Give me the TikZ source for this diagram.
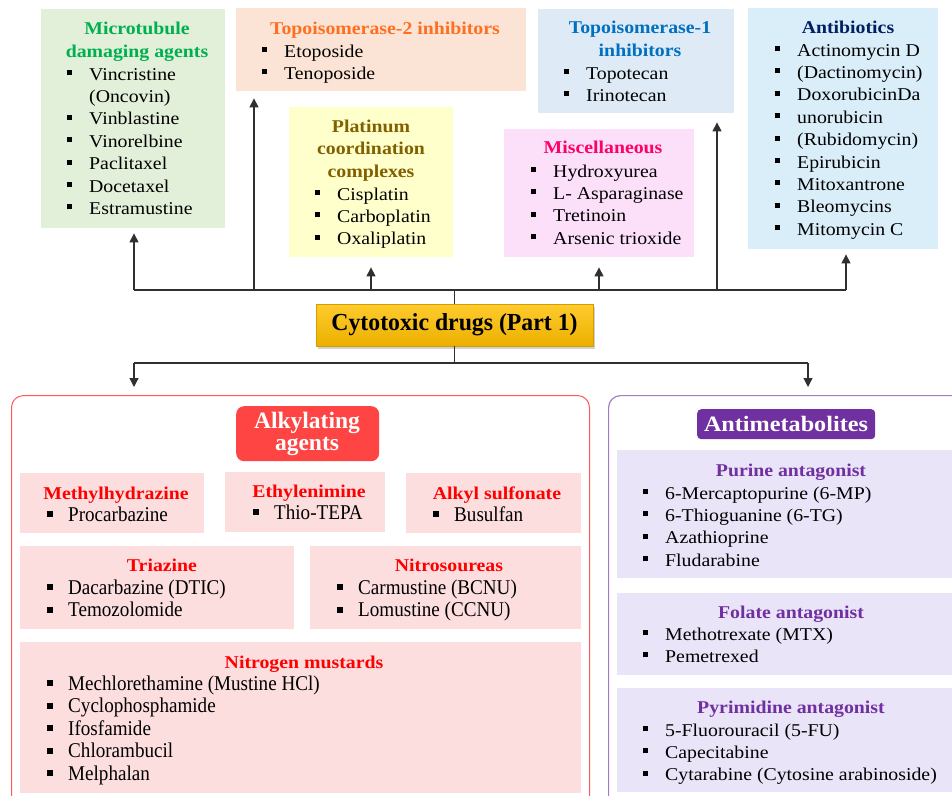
\documentclass[tikz,border=0pt]{standalone}
\usepackage{fontspec}
\setmainfont{Liberation Serif}[FakeStretch=1.1]
\newfontfamily\condf{Liberation Serif}[FakeStretch=0.91]
\newfontfamily\ctrf{Liberation Serif}[FakeStretch=0.97]
\newfontfamily\plainf{Liberation Serif}
\usetikzlibrary{arrows.meta,shadows}
\definecolor{mtfill}{HTML}{E2EFD9}\definecolor{mttext}{HTML}{00B050}
\definecolor{t2fill}{HTML}{FBE4D5}\definecolor{t2text}{HTML}{FF6F20}
\definecolor{plfill}{HTML}{FFFFCC}\definecolor{pltext}{HTML}{806000}
\definecolor{t1fill}{HTML}{DEEAF6}\definecolor{t1text}{HTML}{0070C0}
\definecolor{msfill}{HTML}{FCE0FA}\definecolor{mstext}{HTML}{FF0066}
\definecolor{abfill}{HTML}{DAEEFA}\definecolor{abtext}{HTML}{002060}
\definecolor{redborder}{HTML}{FF5A5A}\definecolor{redtitle}{HTML}{FF4444}
\definecolor{alfill}{HTML}{FDDEDF}\definecolor{altext}{HTML}{FF0000}
\definecolor{puborder}{HTML}{A27CC6}\definecolor{putitle}{HTML}{7030A0}
\definecolor{pufill}{HTML}{E9E4F8}
\definecolor{goldtop}{HTML}{FFCC2E}\definecolor{goldbot}{HTML}{EBAF00}
\definecolor{lncol}{HTML}{303030}
\newcommand{\bul}{\makebox[22pt][l]{\raisebox{5pt}{\rule{5pt}{5pt}}}}
\newcommand{\bulc}{\makebox[21pt][l]{\raisebox{4pt}{\rule{5.5pt}{6pt}}}}
\newcommand{\bsp}{\makebox[22pt]{}}
\newcommand{\cbox}[6]{\node[cb, fill=#6, minimum width={#4pt-#2pt}, minimum height={#5pt-#3pt}] (#1) at (#2,#3) {};}
\newcommand{\ttl}[6]{\node[ttl, text=#5, #6] (#1) at (#2,#3) {\parbox[t]{330pt}{\centering #4}};}
\newcommand{\lstA}[4]{\node[lstn] (#1) at ({#2-22},#3) {\parbox[t]{330pt}{#4}};}
\newcommand{\lstC}[4]{\node[lstc] (#1) at ({#2-21},#3) {\parbox[t]{330pt}{#4}};}
\begin{document}
\begin{tikzpicture}[x=1pt,y=-1pt,
  cb/.style={anchor=north west, inner sep=0pt, draw=none},
  ttl/.style={anchor=base, inner sep=0pt, font=\bfseries\fontsize{18}{22.5}\selectfont},
  lstn/.style={anchor=base west, inner sep=0pt, font=\fontsize{18}{22.4}\selectfont},
  lstc/.style={anchor=base west, inner sep=0pt, font=\condf\fontsize{21}{22.6}\selectfont},
  ln/.style={draw=lncol, line width=1.2pt},
  arr/.style={ln, -{Triangle[length=9pt,width=9pt]}},
]
\clip (0,0) rectangle (952,795);
\fill[white] (0,0) rectangle (952,795);

% ---------- top boxes ----------
\cbox{mtb}{41}{9}{225}{228}{mtfill}
\cbox{t2b}{236}{8}{526}{91}{t2fill}
\cbox{plb}{289}{107}{453}{257}{plfill}
\cbox{t1b}{538}{9}{734}{113}{t1fill}
\cbox{msb}{504}{129}{694}{257}{msfill}
\cbox{abb}{748}{8}{938}{249}{abfill}

\ttl{mtt}{137}{34}{Microtubule\\damaging agents}{mttext}{font=\bfseries\fontsize{18}{23}\selectfont}
\ttl{t2t}{385}{34}{Topoisomerase-2 inhibitors}{t2text}{}
\ttl{plt}{371}{132}{Platinum\\coordination\\complexes}{pltext}{}
\ttl{t1t}{640}{33}{Topoisomerase-1\\inhibitors}{t1text}{font=\bfseries\fontsize{18}{23}\selectfont}
\ttl{mst}{603}{153}{Miscellaneous}{mstext}{}
\ttl{abt}{848}{33}{Antibiotics}{abtext}{}

\lstA{mtl}{89}{80}{\bul Vincristine\\\bsp(Oncovin)\\\bul Vinblastine\\\bul Vinorelbine\\\bul Paclitaxel\\\bul Docetaxel\\\bul Estramustine}
\lstA{t2l}{284}{57}{\bul Etoposide\\\bul Tenoposide}
\lstA{pll}{337}{200}{\bul Cisplatin\\\bul Carboplatin\\\bul Oxaliplatin}
\lstA{t1l}{586}{79}{\bul Topotecan\\\bul Irinotecan}
\lstA{msl}{553}{177}{\bul Hydroxyurea\\\bul L- Asparaginase\\\bul Tretinoin\\\bul Arsenic trioxide}
\lstA{abl}{797}{56}{\bul Actinomycin D\\\bul (Dactinomycin)\\\bul DoxorubicinDa\\\bul unorubicin\\\bul (Rubidomycin)\\\bul Epirubicin\\\bul Mitoxantrone\\\bul Bleomycins\\\bul Mitomycin C}

% ---------- central node ----------
\node[minimum width=277pt, minimum height=42pt, inner sep=0pt,
      top color=goldtop, bottom color=goldbot, draw=goldbot!90!black, line width=0.4pt,
      drop shadow={opacity=0.35, shadow xshift=2pt, shadow yshift=-3pt},
      font=\ctrf\bfseries\fontsize{24.5}{26}\selectfont] (ctr) at (454.5,325) {Cytotoxic drugs (Part 1)};

% ---------- upper bus ----------
\coordinate (b1) at (134,290);
\coordinate (b2) at (254,290);
\coordinate (b3) at (371,290);
\coordinate (b5) at (599,290);
\coordinate (b6) at (717,290);
\coordinate (b7) at (846,290);
\draw[ln] (b1) -- (b7);
\draw[ln] (ctr.north) -- (ctr.north |- b1);
\draw[arr, shorten >=5pt] (b1) -- (b1 |- mtb.south);
\draw[arr, shorten >=7pt] (b2) -- (b2 |- t2b.south);
\draw[arr, shorten >=10pt] (b3) -- (b3 |- plb.south);
\draw[arr, shorten >=10pt] (b5) -- (b5 |- msb.south);
\draw[arr, shorten >=9pt] (b6) -- (b6 |- t1b.south);
\draw[arr, shorten >=5pt] (b7) -- (b7 |- abb.south);

% ---------- containers ----------
\node[cb, draw=redborder, line width=1pt, rounded corners=12pt, minimum width=578pt, minimum height=430pt] (alk) at (11,395) {};
\node[cb, draw=puborder, line width=1.2pt, rounded corners=12pt, minimum width=370pt, minimum height=430pt] (amb) at (608,395) {};

% ---------- lower bus ----------
\coordinate (d1) at (134,363);
\coordinate (d2) at (808,363);
\draw[ln] (ctr.south) -- (ctr.south |- d1);
\draw[ln] (d1) -- (d2);
\draw[arr, shorten >=8pt] (d1) -- (d1 |- alk.north);
\draw[arr, shorten >=8pt] (d2) -- (d2 |- amb.north);

% ---------- alkylating agents ----------
\node[cb, fill=redtitle, rounded corners=8pt, minimum width=143pt, minimum height=55pt] (alt) at (236,406) {};
\node[anchor=base, inner sep=0pt, text=white, font=\plainf\bfseries\fontsize{23.5}{22}\selectfont] (altt) at (307,428) {\parbox[t]{200pt}{\centering Alkylating\\agents}};

\cbox{mhb}{20}{473}{204}{533}{alfill}
\cbox{etb}{225}{472}{385}{532}{alfill}
\cbox{asb}{406}{473}{581}{533}{alfill}
\cbox{tzb}{20}{546}{294}{629}{alfill}
\cbox{nsb}{310}{546}{581}{629}{alfill}
\cbox{nmb}{20}{642}{581}{793}{alfill}

\ttl{mht}{116}{499}{Methylhydrazine}{altext}{}
\ttl{ett}{309}{497}{Ethylenimine}{altext}{}
\ttl{ast}{497}{499}{Alkyl sulfonate}{altext}{}
\ttl{tzt}{162}{571}{Triazine}{altext}{}
\ttl{nst}{449}{571}{Nitrosoureas}{altext}{}
\ttl{nmt}{304}{668}{Nitrogen mustards}{altext}{}

\lstC{mhl}{68}{521}{\bulc Procarbazine}
\lstC{etl}{274}{519}{\bulc Thio-TEPA}
\lstC{asl}{454}{521}{\bulc Busulfan}
\lstC{tzl}{68}{594}{\bulc Dacarbazine (DTIC)\\\bulc Temozolomide}
\lstC{nsl}{358}{594}{\bulc Carmustine (BCNU)\\\bulc Lomustine (CCNU)}
\lstC{nml}{68}{690}{\bulc Mechlorethamine (Mustine HCl)\\\bulc Cyclophosphamide\\\bulc Ifosfamide\\\bulc Chlorambucil\\\bulc Melphalan}

% ---------- antimetabolites ----------
\node[cb, fill=putitle, rounded corners=4pt, minimum width=178pt, minimum height=30pt] (amt) at (697,409) {};
\node[anchor=base, inner sep=0pt, text=white, font=\bfseries\fontsize{22}{24}\selectfont] (amtt) at (786,431) {Antimetabolites};

\cbox{pub}{617}{450}{960}{578}{pufill}
\cbox{fob}{617}{593}{960}{675}{pufill}
\cbox{pyb}{617}{688}{960}{792}{pufill}

\ttl{put}{791}{476}{Purine antagonist}{putitle}{}
\ttl{fot}{791}{618}{Folate antagonist}{putitle}{}
\ttl{pyt}{791}{713}{Pyrimidine antagonist}{putitle}{}

\lstA{pul}{665}{499}{\bul 6-Mercaptopurine (6-MP)\\\bul 6-Thioguanine (6-TG)\\\bul Azathioprine\\\bul Fludarabine}
\lstA{fol}{665}{640}{\bul Methotrexate (MTX)\\\bul Pemetrexed}
\lstA{pyl}{665}{736}{\bul 5-Fluorouracil (5-FU)\\\bul Capecitabine\\\bul Cytarabine (Cytosine arabinoside)}
\end{tikzpicture}
\end{document}
